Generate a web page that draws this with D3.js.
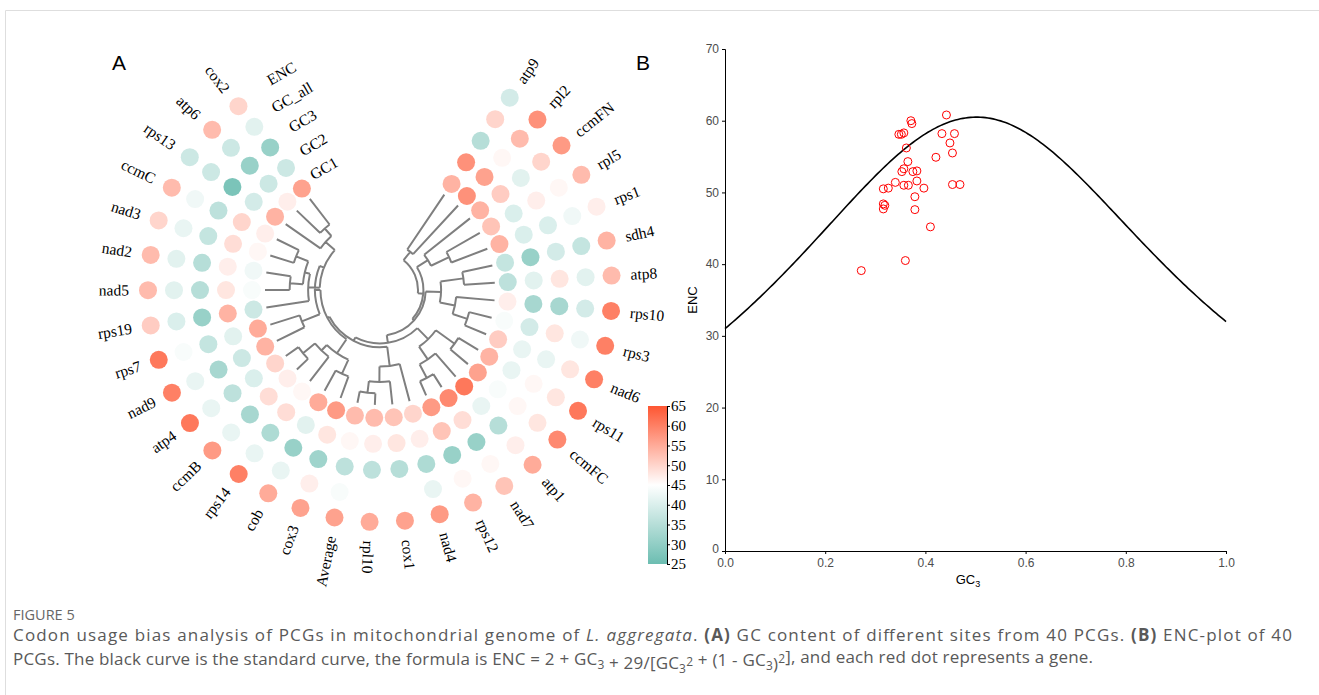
<!DOCTYPE html>
<html>
<head>
<meta charset="utf-8">
<script src="https://cdn.jsdelivr.net/npm/d3@7"></script>
<style>
  body { margin: 0; background: #fff; }
  svg { display: block; }
</style>
</head>
<body>
<svg id="fig" width="1319" height="695"></svg>
<script>
// Genes in clockwise order, starting at the top right
var genes = ["atp9", "rpl2", "ccmFN", "rpl5", "rps1", "sdh4", "atp8", "rps10", "rps3", "nad6",
  "rps11", "ccmFC", "atp1", "nad7", "rps12", "nad4", "cox1", "rpl10", "Average", "cox3",
  "cob", "rps14", "ccmB", "atp4", "nad9", "rps7", "rps19", "nad5", "nad2", "nad3",
  "ccmC", "rps13", "atp6", "cox2"];

// Ring values (outer ring to inner ring)
var encRing = [39, 58, 57, 53, 47, 54, 53, 60, 60, 60, 61, 59, 55, 52, 54, 57, 56, 55, 56, 56,
  55, 60, 57, 61, 60, 61, 51, 53, 53, 50, 53, 38, 53, 50];
var gcAllRing = [50, 53, 50, 46, 43, 37, 41, 39, 43, 48, 48, 48, 47, 46, 46, 42, 45, 45, 44, 47,
  42, 42, 42, 42, 42, 44, 40, 41, 41, 42, 43, 38, 38, 41];
var gc3Ring = [35, 46, 41, 47, 40, 39, 48, 33, 48, 42, 46, 46, 35, 31, 31, 34, 35, 36, 36, 32,
  31, 34, 33, 36, 33, 37, 31, 35, 35, 37, 36, 27, 31, 31];
var gc2Ring = [58, 56, 51, 40, 40, 31, 41, 33, 39, 42, 42, 44, 42, 49, 52, 47, 48, 47, 46, 48,
  41, 49, 49, 40, 38, 41, 54, 48, 47, 49, 50, 39, 38, 38];
var gc1Ring = [54, 58, 54, 52, 54, 37, 36, 47, 44, 51, 54, 56, 61, 59, 57, 50, 52, 53, 53, 57,
  55, 46, 47, 50, 54, 55, 38, 44, 43, 46, 47, 54, 47, 56];
var ringNames = ["ENC", "GC_all", "GC3", "GC2", "GC1"];
var legendTicks = [25, 30, 35, 40, 45, 50, 55, 60, 65];

// Dendrogram (h = merge height)
var tree = {h: 10, c: [
  {h: 8.6, c: ["atp9", "rpl2"]},
  {h: 9.3, c: [
    {h: 7.6, c: ["ccmFN", {h: 5, c: ["rpl5", "rps1"]}]},
    {h: 9, c: [
      {h: 7, c: [{h: 4, c: ["sdh4", "atp8"]}, {h: 5, c: ["rps10", {h: 3, c: ["rps3", "nad6"]}]}]},
      {h: 8, c: [
        {h: 6, c: [{h: 3, c: ["rps11", "ccmFC"]}, {h: 4, c: ["atp1", {h: 2, c: ["nad7", "rps12"]}]}]},
        {h: 7.5, c: [
          {h: 5, c: ["nad4", {h: 3, c: ["cox1", {h: 1.5, c: ["rpl10", "Average"]}]}]},
          {h: 7.2, c: [
            {h: 5, c: [{h: 3, c: ["cox3", "cob"]}, {h: 4, c: ["rps14", {h: 2, c: ["ccmB", "atp4"]}]}]},
            {h: 6.5, c: [
              {h: 4, c: ["nad9", "rps7"]},
              {h: 7.1, c: [
                {h: 5.6, c: ["rps19", {h: 4.9, c: [{h: 3.2, c: ["nad5", "nad2"]}, {h: 3.2, c: ["nad3", "ccmC"]}]}]},
                {h: 5.5, c: ["rps13", {h: 4.2, c: ["atp6", "cox2"]}]}
              ]}
            ]}
          ]}
        ]}
      ]}
    ]}
  ]}
]};

// ENC-plot points
var scatterGC3 = [0.442, 0.371, 0.373, 0.347, 0.352, 0.357, 0.433, 0.458, 0.449, 0.362,
  0.454, 0.421, 0.365, 0.353, 0.357, 0.375, 0.383, 0.383, 0.340, 0.357,
  0.366, 0.397, 0.316, 0.326, 0.454, 0.469, 0.379, 0.316, 0.319, 0.316,
  0.379, 0.410, 0.360, 0.272];
var scatterENC = [60.8, 60.0, 59.6, 58.1, 58.1, 58.3, 58.2, 58.2, 56.9, 56.2,
  55.5, 54.9, 54.3, 52.9, 53.3, 52.9, 53.0, 51.6, 51.4, 51.0,
  51.0, 50.6, 50.5, 50.6, 51.1, 51.1, 49.4, 48.4, 48.2, 47.7,
  47.6, 45.2, 40.5, 39.1];
var xTicks = [0, 0.2, 0.4, 0.6, 0.8, 1.0];
var yTicks = [0, 10, 20, 30, 40, 50, 60, 70];

var svg = d3.select("#fig");
var serif = "'Liberation Serif', 'Times New Roman', serif";
var sans = "'Liberation Sans', Arial, sans-serif";

// page frame
svg.append("path")
  .attr("d", "M5.5,695 V10.5 H1319")
  .attr("fill", "none")
  .attr("stroke", "#dedede");

// ---------------- Panel A ----------------
var cx = 380, cy = 290;
var angle = d3.scalePoint().domain(genes).range([34, 322.4]);
var ringRadius = d3.scalePoint().domain(ringNames).range([232, 128]);
var color = d3.scaleLinear().domain([25, 45, 65]).range(["#6cbdb1", "#ffffff", "#fe5632"]);

function polar(a, r) {
  var t = a * Math.PI / 180;
  return [r * Math.sin(t), -r * Math.cos(t)];
}

var gA = svg.append("g").attr("transform", `translate(${cx},${cy})`);

var ringValues = [encRing, gcAllRing, gc3Ring, gc2Ring, gc1Ring];
ringNames.forEach(function(name, i) {
  gA.append("g").selectAll("circle")
    .data(genes)
    .enter()
    .append("circle")
    .attr("cx", d => polar(angle(d), ringRadius(name))[0])
    .attr("cy", d => polar(angle(d), ringRadius(name))[1])
    .attr("r", 9)
    .attr("fill", (d, j) => color(ringValues[i][j]));
});

// gene labels
gA.append("g").selectAll("text")
  .data(genes)
  .enter()
  .append("text")
  .attr("transform", function(d) {
    var a = angle(d), p = polar(a, 251);
    var rot = a < 187 ? a - 90 : a + 90;
    return `translate(${p[0]},${p[1]}) rotate(${rot})`;
  })
  .attr("text-anchor", d => angle(d) < 187 ? "start" : "end")
  .attr("dy", "0.35em")
  .style("font-family", serif)
  .style("font-size", "15.5px")
  .text(d => d);

// ring labels in the gap
gA.append("g").selectAll("text")
  .data(ringNames)
  .enter()
  .append("text")
  .attr("transform", function(d) {
    var p = polar(336, ringRadius(d) + 3);
    return `translate(${p[0] - 3},${p[1] - 2}) rotate(-30)`;
  })
  .attr("text-anchor", "middle")
  .attr("dy", "0.35em")
  .style("font-family", serif)
  .style("font-size", "15.5px")
  .text(d => d);

// dendrogram
var root = d3.hierarchy(tree, d => d.c);
var rad = d3.scaleLinear().domain([0, tree.h]).range([115, 38]);
root.eachAfter(function(n) {
  if (!n.children) {
    n.a = angle(n.data);
    n.r = rad(0);
  } else {
    n.a = (n.children[0].a + n.children[n.children.length - 1].a) / 2;
    n.r = rad(n.data.h);
  }
});
var dendro = d3.path();
root.each(function(n) {
  if (!n.children) return;
  var a0 = n.children[0].a, a1 = n.children[n.children.length - 1].a;
  var s = polar(a0, n.r);
  dendro.moveTo(s[0], s[1]);
  dendro.arc(0, 0, n.r, (a0 - 90) * Math.PI / 180, (a1 - 90) * Math.PI / 180);
  n.children.forEach(function(c) {
    var p0 = polar(c.a, n.r), p1 = polar(c.a, c.r);
    dendro.moveTo(p0[0], p0[1]);
    dendro.lineTo(p1[0], p1[1]);
  });
});
gA.append("path")
  .attr("d", dendro.toString())
  .attr("fill", "none")
  .attr("stroke", "#7f7f7f")
  .attr("stroke-width", 2);

// colour legend
var legendScale = d3.scaleLinear().domain([25, 65]).range([564, 406]);
var grad = svg.append("defs").append("linearGradient")
  .attr("id", "legendGrad")
  .attr("x1", 0).attr("y1", 1).attr("x2", 0).attr("y2", 0);
grad.selectAll("stop")
  .data(legendTicks)
  .enter()
  .append("stop")
  .attr("offset", d => (d - 25) / 40)
  .attr("stop-color", d => color(d));
svg.append("rect")
  .attr("x", 648).attr("y", 406)
  .attr("width", 19).attr("height", 158)
  .attr("fill", "url(#legendGrad)");
var legendAxis = svg.append("g")
  .attr("transform", "translate(667,0)")
  .call(d3.axisRight(legendScale).tickValues(legendTicks).tickSize(3).tickPadding(1));
legendAxis.attr("font-size", null).attr("font-family", null);
legendAxis.selectAll("text").style("font-family", serif).style("font-size", "15px").attr("fill", "#000");

svg.append("text")
  .attr("x", 112).attr("y", 70)
  .style("font-family", sans).style("font-size", "21px")
  .text("A");

// ---------------- Panel B ----------------
var x = d3.scaleLinear().domain([0, 1]).range([725, 1226]);
var y = d3.scaleLinear().domain([0, 70]).range([551, 49]);

svg.append("text")
  .attr("x", 636).attr("y", 70)
  .style("font-family", sans).style("font-size", "21px")
  .text("B");

var xAxis = svg.append("g")
  .attr("transform", "translate(0,551)")
  .call(d3.axisBottom(x).tickValues(xTicks).tickFormat(d3.format(".1f")).tickSize(3).tickPadding(4));
var yAxis = svg.append("g")
  .attr("transform", "translate(725,0)")
  .call(d3.axisLeft(y).tickValues(yTicks).tickSize(3).tickPadding(3));
[xAxis, yAxis].forEach(function(ax) {
  ax.attr("font-size", null).attr("font-family", null);
  ax.selectAll("text").style("font-family", sans).style("font-size", "12px").attr("fill", "#4d4d4d");
  ax.select(".domain").attr("stroke", "#000");
});
yAxis.selectAll(".tick").filter(d => d === 0).select("text").attr("dy", "0.1em");

// standard curve ENC = 2 + GC3 + 29 / (GC3^2 + (1 - GC3)^2)
var curveX = d3.range(0, 1.0001, 0.005);
svg.append("path")
  .datum(curveX)
  .attr("fill", "none")
  .attr("stroke", "#000")
  .attr("stroke-width", 1.6)
  .attr("d", d3.line()
    .x(d => x(d))
    .y(d => y(2 + d + 29 / (d * d + (1 - d) * (1 - d)))));

svg.append("g").selectAll("circle")
  .data(scatterGC3)
  .enter()
  .append("circle")
  .attr("cx", d => x(d))
  .attr("cy", (d, i) => y(scatterENC[i]))
  .attr("r", 4)
  .attr("fill", "none")
  .attr("stroke", "#ff0000")
  .attr("stroke-width", 1);

svg.append("text")
  .attr("transform", "translate(697,300) rotate(-90)")
  .attr("text-anchor", "middle")
  .style("font-family", sans).style("font-size", "13px")
  .text("ENC");

var xt = svg.append("text")
  .attr("x", 968).attr("y", 584)
  .attr("text-anchor", "middle")
  .style("font-family", sans).style("font-size", "13px");
xt.append("tspan").text("GC");
xt.append("tspan").attr("dy", 3).style("font-size", "9px").text("3");

// ---------------- Caption ----------------
var capFont = "'Open Sans', 'Noto Sans', sans-serif";
svg.append("text")
  .attr("x", 13).attr("y", 620)
  .style("font-family", capFont).style("font-size", "14.5px")
  .attr("fill", "#666")
  .text("FIGURE 5");

var line1 = svg.append("text")
  .attr("x", 13).attr("y", 641)
  .attr("textLength", 1279)
  .attr("lengthAdjust", "spacing")
  .style("font-family", capFont).style("font-size", "17px")
  .attr("fill", "#595959");
line1.append("tspan").text("Codon usage bias analysis of PCGs in mitochondrial genome of ");
line1.append("tspan").style("font-style", "italic").text("L. aggregata");
line1.append("tspan").text(". ");
line1.append("tspan").style("font-weight", "bold").text("(A)");
line1.append("tspan").text(" GC content of different sites from 40 PCGs. ");
line1.append("tspan").style("font-weight", "bold").text("(B)");
line1.append("tspan").text(" ENC-plot of 40");

var line2 = svg.append("text")
  .attr("x", 13).attr("y", 665)
  .attr("textLength", 1080)
  .attr("lengthAdjust", "spacing")
  .style("font-family", capFont).style("font-size", "17px")
  .attr("fill", "#595959");
function sub(t, s) {
  t.append("tspan").attr("dy", 4).style("font-size", "12px").text(s);
  t.append("tspan").attr("dy", -4).text("");
}
function sup(t, s) {
  t.append("tspan").attr("dy", -7).style("font-size", "12px").text(s);
  t.append("tspan").attr("dy", 7).text("");
}
line2.append("tspan").text("PCGs. The black curve is the standard curve, the formula is ENC = 2 + GC");
sub(line2, "3");
line2.append("tspan").text(" + 29/[GC");
sub(line2, "3");
sup(line2, "2");
line2.append("tspan").text(" + (1 - GC");
sub(line2, "3");
line2.append("tspan").text(")");
sup(line2, "2");
line2.append("tspan").text("], and each red dot represents a gene.");
</script>
</body>
</html>
